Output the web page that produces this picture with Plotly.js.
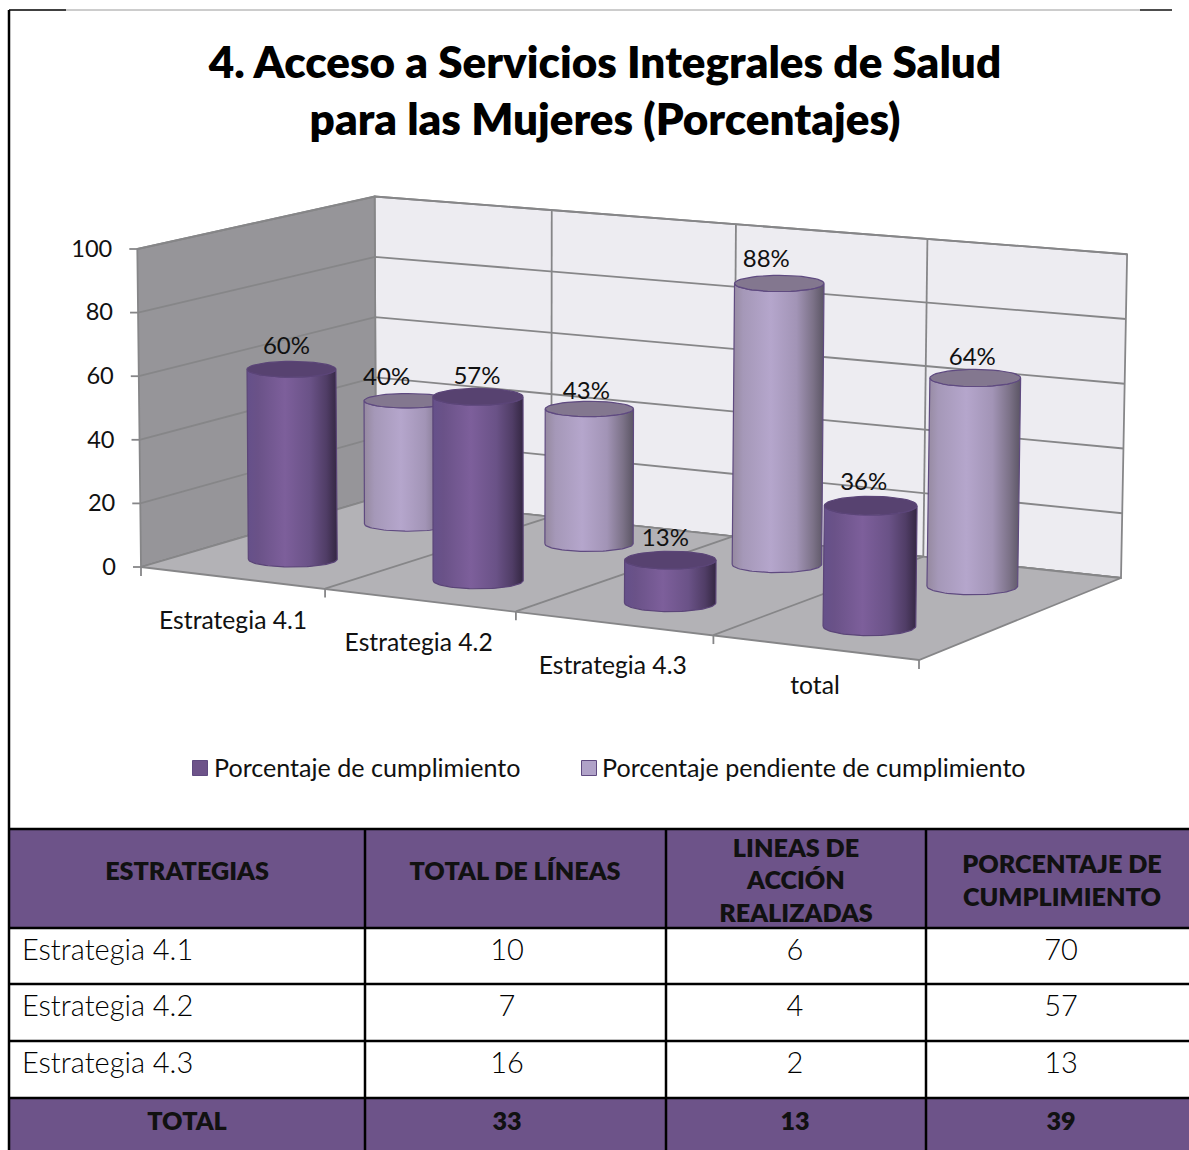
<!DOCTYPE html>
<html><head><meta charset="utf-8">
<script src="https://cdn.plot.ly/plotly-3.0.1.min.js"></script>
<style>html,body{margin:0;padding:0;background:#fff}</style></head>
<body><div id="chart" style="width:1189px;height:1150px"></div>
<script>
// ---------- data ----------
const categories = ['Estrategia 4.1','Estrategia 4.2','Estrategia 4.3','total'];
const cumplimiento = [60,57,13,36];
const pendiente = [40,43,88,64];
const valueTicks = [0,20,40,60,80,100];
const seriesNames = ['Porcentaje de cumplimiento','Porcentaje pendiente de cumplimiento'];
const titleText = '4. Acceso a Servicios Integrales de Salud<br>para las Mujeres (Porcentajes)';

const tableHeader = ['ESTRATEGIAS','TOTAL DE LÍNEAS','LINEAS DE<br>ACCIÓN<br>REALIZADAS','PORCENTAJE DE<br>CUMPLIMIENTO'];
const tableStrategies = ['Estrategia 4.1','Estrategia 4.2','Estrategia 4.3'];
const tableLines = [10,7,16];
const tableDone = [6,4,2];
const tablePct = [70,57,13];
const tableTotal = ['TOTAL',33,13,39];

// ---------- styling / layout constants ----------
const LATO = 'Lato, sans-serif';
const GRID = '#868688';
const DARK = {cap:'#574270', line:'#5b4578',
  scale:[[0,'#65508a'],[0.12,'#6a5288'],[0.42,'#7d5f9b'],[0.7,'#6a5287'],[0.88,'#503d66'],[1,'#342742']]};
const LIGHT = {cap:'#83778f', line:'#5f4a80',
  scale:[[0,'#95899f'],[0.12,'#a598b8'],[0.42,'#b5a6cc'],[0.7,'#a294b6'],[0.88,'#7c7288'],[1,'#5b5564']]};
const labelNudge = {dark:[[-5,-21],[-1,-19],[-5,-20],[-7,-22]], light:[[-21,-22],[-3,-16],[-13,-22],[-3,-19]]};
const colEdges = [10,365,666,926,1189];
const rowEdges = [829,928,984,1041,1098,1150];
const headCx = [187,515,796,1062], headCy = [874,874,883,883];
const bodyCx = [507,795,1061], rowCy = [953,1009,1066], totalCy = 1124;

// floor quadrilateral in picture space -> perspective projection
const Q = {A:[141,567],B:[919,660],D:[1121,578],C:[376,498]};
const H = (()=>{
  const {A,B,C,D}=Q;
  const dx1=B[0]-D[0],dy1=B[1]-D[1],dx2=C[0]-D[0],dy2=C[1]-D[1];
  const sx=A[0]-B[0]+D[0]-C[0],sy=A[1]-B[1]+D[1]-C[1];
  const det=dx1*dy2-dx2*dy1;
  const g=(sx*dy2-dx2*sy)/det,h=(dx1*sy-sx*dy1)/det;
  return {a:B[0]-A[0]+g*B[0],b:C[0]-A[0]+h*C[0],c:A[0],d:B[1]-A[1]+g*B[1],e:C[1]-A[1]+h*C[1],f:A[1],g,h};
})();
const den=(u,v)=>1+H.g*u/4+H.h*v;
// u: category axis 0..4, v: depth 0 (front)..1 (back), w: value 0..100
function P(u,v,w){
  const n=den(u,v), U=u/4;
  const x0=(H.a*U+H.b*v+H.c)/n + 4.5*(1-0.6*v)*Math.sin(Math.PI*U), y0=(H.d*U+H.e*v+H.f)/n;
  return [x0+(w/100)*0.01*(x0-510), y0-3.18*w/Math.pow(n,0.8)];
}
const traces=[];
const xy=pts=>({x:pts.map(p=>p[0]),y:pts.map(p=>p[1])});
function poly(pts,fill){traces.push({type:'scatter',mode:'lines',...xy(pts.concat([pts[0]])),fill:'toself',fillcolor:fill,
  line:{color:GRID,width:1.8},hoverinfo:'skip',showlegend:false});}
function line(pts,color,width){traces.push({type:'scatter',mode:'lines',...xy(pts),line:{color:color||GRID,width:width||1.8},hoverinfo:'skip',showlegend:false});}
function label(x,y,text,size,pos,opts){traces.push({type:'scatter',mode:'text',x:[x],y:[y],text:[text],textposition:pos||'middle center',
  textfont:Object.assign({family:LATO,size:size,color:'#111'},opts||{}),hoverinfo:'skip',showlegend:false,cliponaxis:false});}

// ---------- walls and floor ----------
poly([P(0,1,0),P(4,1,0),P(4,1,100),P(0,1,100)],'#edecf1');
poly([P(0,0,0),P(0,1,0),P(0,1,100),P(0,0,100)],'#969599');
valueTicks.forEach(t=>{
  line([P(0,0,t),P(0,1,t),P(4,1,t)]);
  const p=P(0,0,t);
  line([[p[0]-8,p[1]],p]);
  label(p[0]-25,p[1]+2,String(t),23.6,'middle left');
});
[1,2,3].forEach(k=>line([P(k,1,0),P(k,1,100)]));
poly([P(0,0,0),P(4,0,0),P(4,1,0),P(0,1,0)],'#b3b2b6');
[0,1,2,3,4].forEach(k=>{
  const p=P(k,0,0);
  if(k>0&&k<4) line([p,P(k,1,0)]);
  line([p,[p[0],p[1]+9]]);
});
categories.forEach((c,i)=>{const p=P(i+0.5,0,0);label(p[0]+(i==0?1:i==3?0:-1),p[1]+(i==3?40:45),c,24.7);});

// ---------- cylinders ----------
function cylinder(i,v,val,st){
  const u=i+0.5,n=den(u,v);
  const rx=44.6/Math.pow(n,0.6), ry=8/Math.pow(n,2.5);
  const b=P(u,v,0), t=P(u,v,val);
  const N=48, arc=(c,from,to)=>{const o=[];for(let k=0;k<=N;k++){const a=from+(to-from)*k/N;o.push([c[0]+rx*Math.cos(a),c[1]+ry*Math.sin(a)]);}return o;};
  const body=arc(b,Math.PI,0).concat(arc(t,0,Math.PI));
  body.push(body[0]);
  traces.push({type:'scatter',mode:'lines',...xy(body),fill:'toself',
    fillgradient:{type:'horizontal',colorscale:st.scale},
    line:{color:st.line,width:1.2},hoverinfo:'skip',showlegend:false});
  const cap=arc(t,0,2*Math.PI);
  traces.push({type:'scatter',mode:'lines',...xy(cap),fill:'toself',fillcolor:st.cap,
    line:{color:st.line,width:1.2},hoverinfo:'skip',showlegend:false});
  return t;
}
const labs=[];
pendiente.forEach((val,i)=>{const t=cylinder(i,0.75,val,LIGHT);labs.push([t[0]+labelNudge.light[i][0],t[1]+labelNudge.light[i][1],val+'%']);});
cumplimiento.forEach((val,i)=>{const t=cylinder(i,0.25,val,DARK);labs.push([t[0]+labelNudge.dark[i][0],t[1]+labelNudge.dark[i][1],val+'%']);});
labs.forEach(l=>label(l[0],l[1],l[2],24));

// ---------- legend ----------
[[200,215,DARK,'#6d5389'],[589,603,LIGHT,'#b0a2c8']].forEach((e,i)=>{
  traces.push({type:'scatter',mode:'markers',x:[e[0]],y:[768],name:seriesNames[i],
    marker:{symbol:'square',size:15,color:e[3],line:{color:'#5f4a80',width:1}},hoverinfo:'skip',showlegend:false});
  label(e[1]-1,771,seriesNames[i],25.1,'middle right');
});

// ---------- table ----------
const shapes=[];
const rect=(x0,y0,x1,y1,c)=>shapes.push({type:'rect',xref:'x',yref:'y',x0,y0,x1,y1,fillcolor:c,line:{width:0},layer:'below'});
const seg=(x0,y0,x1,y1,c,w)=>shapes.push({type:'line',xref:'x',yref:'y',x0,y0,x1,y1,line:{color:c,width:w},layer:'above'});
const PURPLE='#6d5389';
rect(colEdges[0],rowEdges[0],colEdges[4],rowEdges[1],PURPLE);
rect(colEdges[0],rowEdges[4],colEdges[4],rowEdges[5],PURPLE);
rowEdges.slice(0,5).forEach(y=>seg(colEdges[0],y,colEdges[4],y,'#000',2.5));
colEdges.slice(1,4).forEach(x=>seg(x,rowEdges[0],x,rowEdges[5],'#000',2.5));
// frame of the page
seg(9,10,9,1150,'#000',2.5);
seg(9,10,66,10,'#000',1.6);
seg(66,10,1140,10,'#9a9a9a',1);
seg(1140,10,1172,10,'#000',1.4);

const BODY=29, HEAD=25.2, HEADFONT={weight:800,color:'#111'}, BODYFONT={weight:300,color:'#000'};
tableHeader.forEach((t,i)=>label(headCx[i],headCy[i],t,HEAD,'middle center',HEADFONT));
tableStrategies.forEach((s,r)=>{
  label(22,rowCy[r],s,BODY,'middle right',BODYFONT);
  [tableLines,tableDone,tablePct].forEach((col,c)=>label(bodyCx[c],rowCy[r],String(col[r]),BODY,'middle center',BODYFONT));
});
tableTotal.forEach((t,i)=>label(i==0?headCx[0]:bodyCx[i-1],totalCy,String(t),HEAD,'middle center',HEADFONT));

const layout={
  width:1189,height:1150,autosize:false,margin:{l:0,r:0,t:0,b:0},
  paper_bgcolor:'#fff',plot_bgcolor:'#fff',showlegend:false,
  title:{text:titleText,font:{family:LATO,size:44,color:'#000',weight:800},x:605/1189,xanchor:'center',y:1-77.5/1150,yanchor:'middle'},
  xaxis:{range:[0,1189],visible:false,fixedrange:true},
  yaxis:{range:[1150,0],visible:false,fixedrange:true},
  shapes
};
Plotly.newPlot('chart',traces,layout,{displayModeBar:false,staticPlot:true});
</script></body></html>
